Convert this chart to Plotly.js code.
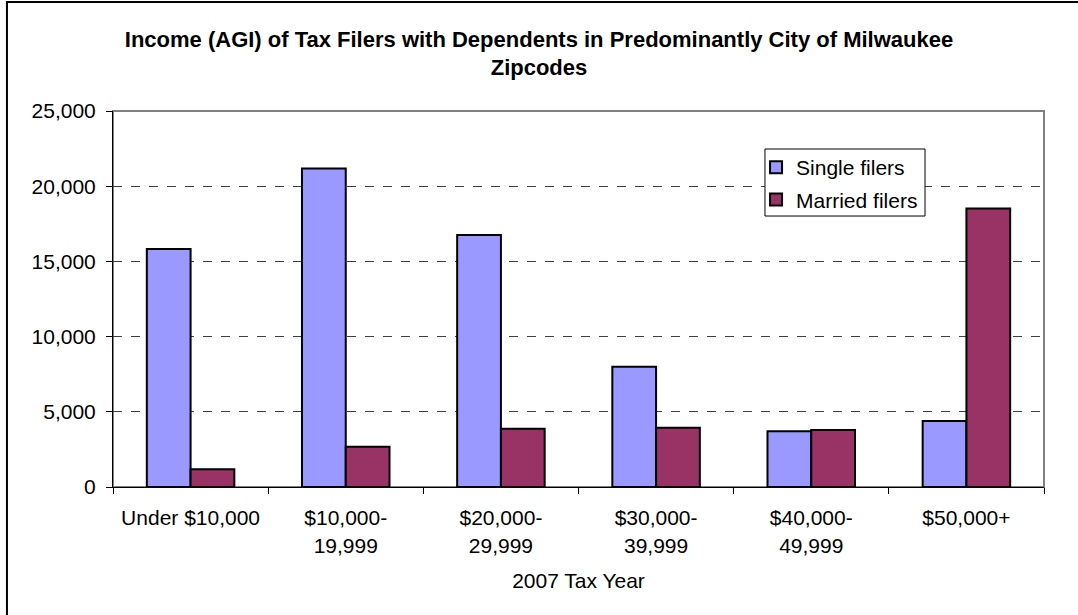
<!DOCTYPE html>
<html>
<head>
<meta charset="utf-8">
<script src="https://cdn.plot.ly/plotly-3.0.1.min.js"></script>
<style>html,body{margin:0;padding:0;background:#fff;}#chart{width:1078px;height:615px;}</style>
</head>
<body>
<div id="chart"></div>
<script>
const categories = ["Under $10,000", "$10,000-<br>19,999", "$20,000-<br>29,999", "$30,000-<br>39,999", "$40,000-<br>49,999", "$50,000+"];
const singleFilers = [15830, 21180, 16760, 8000, 3700, 4380];
const marriedFilers = [1180, 2680, 3880, 3940, 3790, 18520];
const yTicks = [0, 5000, 10000, 15000, 20000, 25000];

const FONT = '"Liberation Sans", Arial, sans-serif';

const traces = [
  {type: 'bar', name: 'Single filers', x: categories, y: singleFilers, legendgroup: 'a',
   marker: {color: '#9999FF', line: {color: '#000000', width: 2}}, hoverinfo: 'skip'},
  {type: 'bar', name: 'Married filers', x: categories, y: marriedFilers, legendgroup: 'b',
   marker: {color: '#993366', line: {color: '#000000', width: 2}}, hoverinfo: 'skip'}
];

const layout = {
  width: 1078, height: 615,
  margin: {l: 113, r: 34, t: 111, b: 128},
  paper_bgcolor: '#ffffff', plot_bgcolor: '#ffffff',
  font: {family: FONT, size: 21, color: '#000000'},
  title: {text: '<b>Income (AGI) of Tax Filers with Dependents in Predominantly City of Milwaukee<br>Zipcodes</b>',
          font: {family: FONT, size: 22, color: '#000000'},
          x: 0.5, xanchor: 'center', yref: 'container', y: 0.924, yanchor: 'middle'},
  barmode: 'group', bargap: 0.436, bargroupgap: 0,
  showlegend: true,
  legend: {x: 0.6907, y: 0.904, xanchor: 'left', yanchor: 'top', bgcolor: 'rgba(0,0,0,0)',
           borderwidth: 0, font: {family: FONT, size: 21},
           traceorder: 'grouped', tracegroupgap: 2},
  xaxis: {type: 'category', showline: true, linecolor: '#000000', linewidth: 1,
          ticks: 'outside', ticklen: 6, tickcolor: '#000000', tickson: 'boundaries',
          showgrid: false, zeroline: false, ticklabelstandoff: 12,
          tickfont: {family: FONT, size: 21},
          title: {text: '2007 Tax Year', font: {family: FONT, size: 21}, standoff: 17}},
  yaxis: {range: [0, 25000], tickvals: yTicks, tickformat: ',d', showline: true,
          linecolor: '#000000', linewidth: 1, ticks: 'outside', ticklen: 6, tickcolor: '#000000',
          showgrid: true, gridcolor: '#404040', griddash: 'dash', gridwidth: 1,
          zeroline: false, tickfont: {family: FONT, size: 21}, ticklabelstandoff: 6},
  shapes: [
    {type: 'rect', xref: 'paper', yref: 'paper', x0: 0, x1: 1, y0: 0, y1: 1,
     line: {color: '#808080', width: 2}, layer: 'below'},
    {type: 'rect', xref: 'paper', yref: 'paper', x0: 0.7003, x1: 0.8722, y0: 0.7207, y1: 0.8989,
     fillcolor: '#ffffff', line: {color: '#000000', width: 1}, layer: 'above'},
    {type: 'rect', xref: 'paper', yref: 'paper', x0: -0.1139, x1: 1.1, y0: -0.4, y1: 1.29,
     line: {color: '#000000', width: 2}, layer: 'above'}
  ]
};

Plotly.newPlot('chart', traces, layout, {displayModeBar: false, staticPlot: true});
</script>
</body>
</html>
